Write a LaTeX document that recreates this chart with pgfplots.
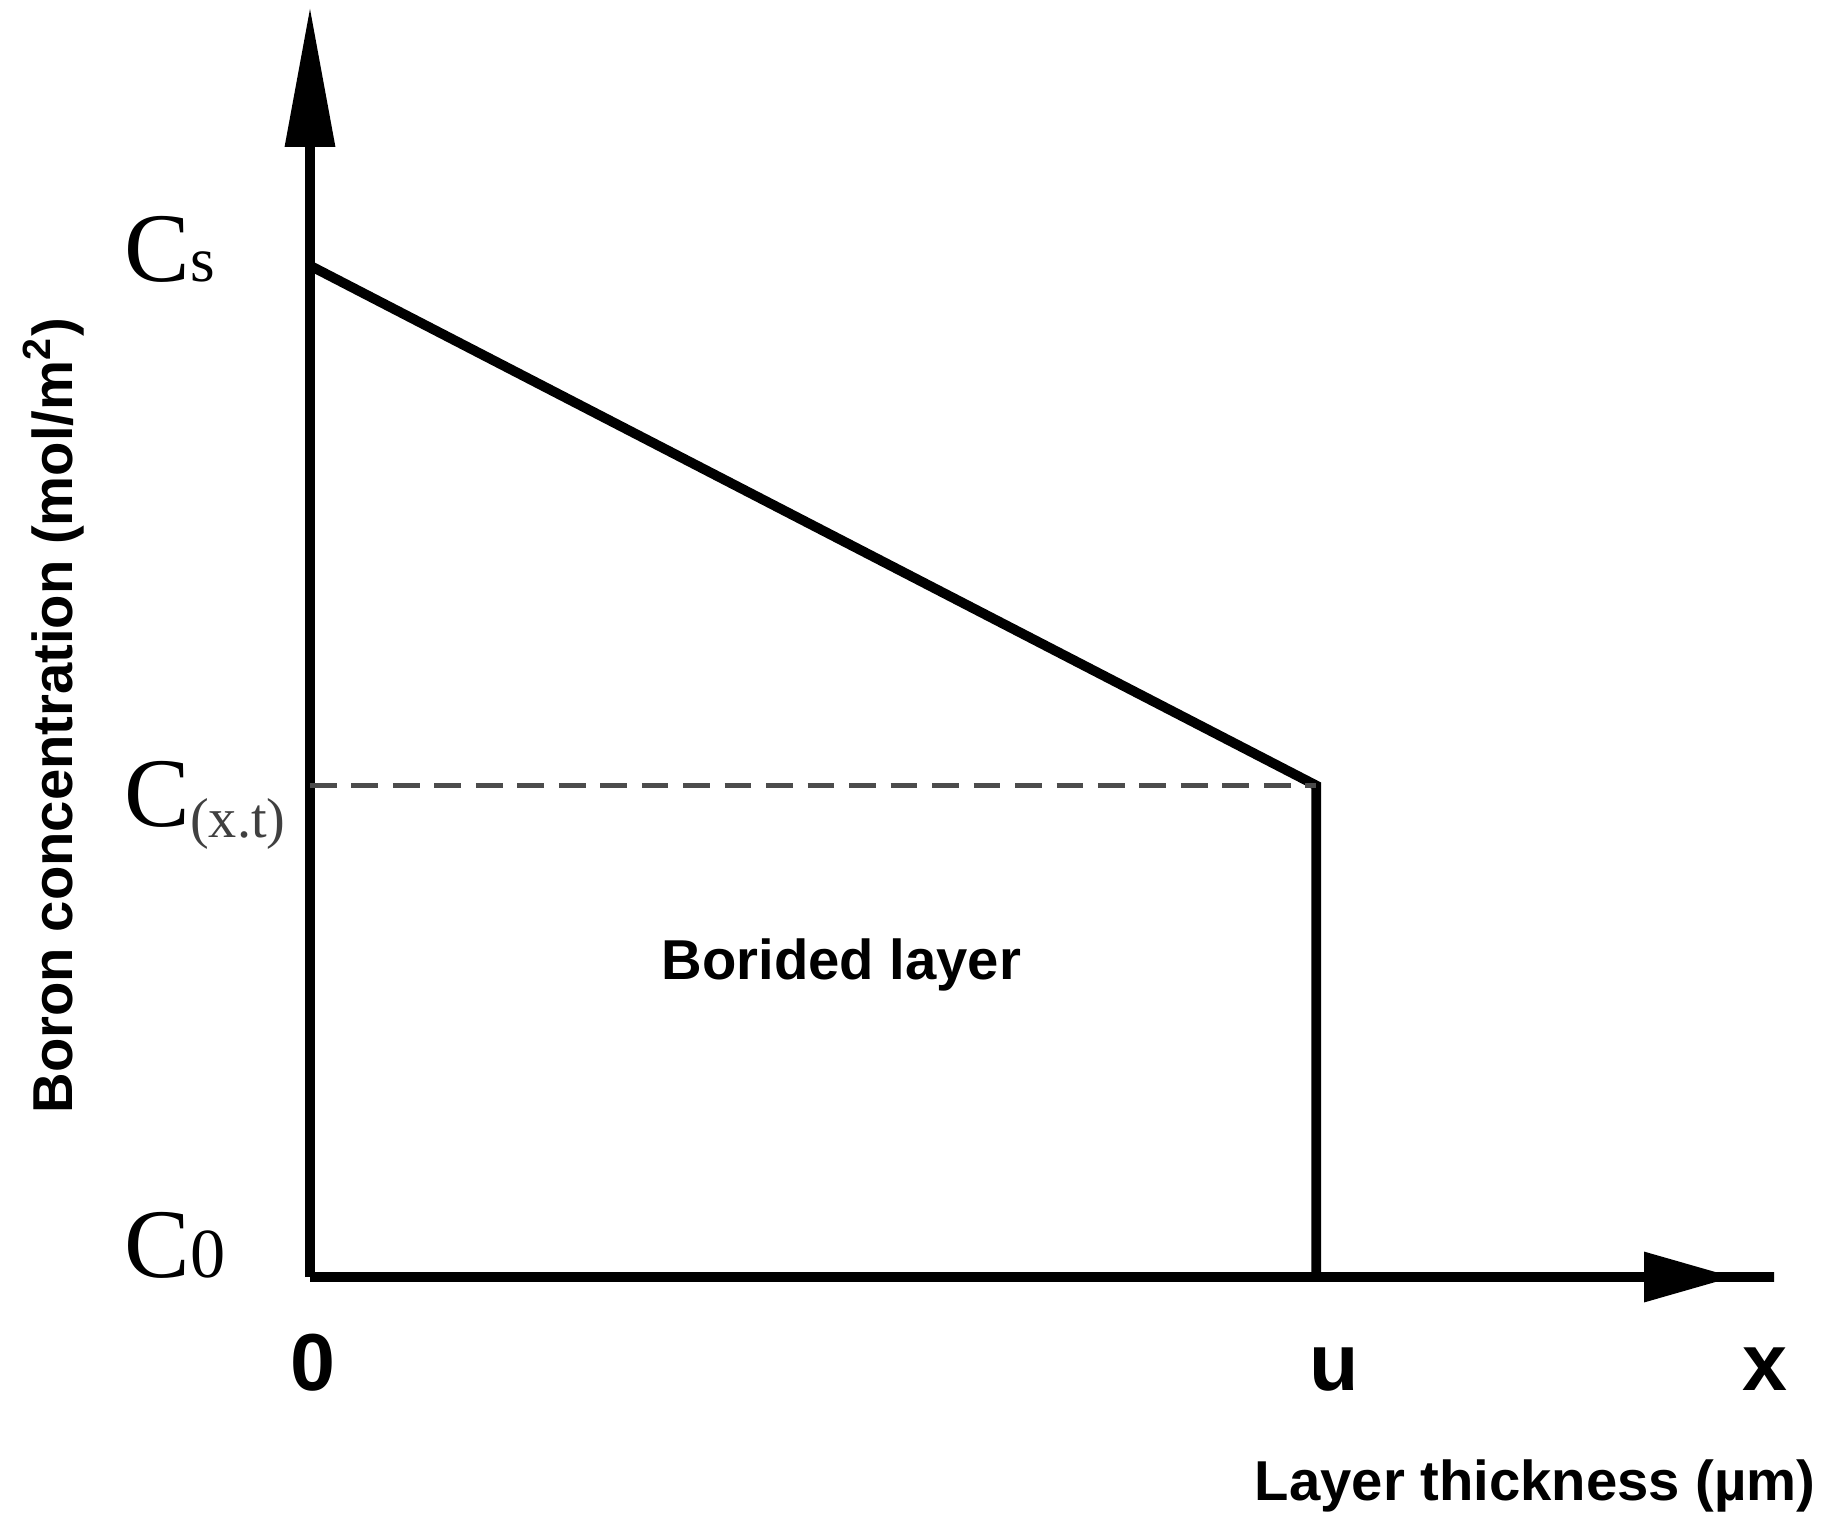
\documentclass[border=0pt]{standalone}
\usepackage{fontspec}
\setmainfont{Liberation Sans}
\newfontfamily\serifC{Liberation Serif}
\usepackage{pgfplots}
\pgfplotsset{compat=1.18}
\usetikzlibrary{arrows.meta}

\begin{document}
\begin{tikzpicture}
% page frame, same proportions as the reference
\path[use as bounding box] (-3.10,-2.58) rectangle (15.30,12.77);

\begin{axis}[
    scale only axis,
    width=14.69cm, height=12.70cm,
    xmin=0, xmax=1.460,
    ymin=0, ymax=1.2557,
    axis lines=left,
    xtick=\empty, ytick=\empty,
    clip=false,
    x axis line style={line width=2.8pt,
        -{Triangle[length=0.9cm,width=0.48cm,sep=0pt]Rectangle[length=0.45cm,width=2.8pt]}},
    y axis line style={line width=2.8pt,
        -{Triangle[length=1.4cm,width=0.48cm]}},
]

% boron profile in the borided layer
\addplot[line width=2.8pt, black, line join=miter] coordinates {
    (0, 1)
    (1, 0.486)
    (1, 0)
};

% C(x,t) level
\addplot[line width=1.3pt, black!70, dash pattern=on 7.6pt off 4.2pt] coordinates {
    (0, 0.486)
    (1, 0.486)
};

% concentration levels
\node[anchor=base west, inner sep=0pt] at (axis cs:-0.185,0.984)
    {\serifC\fontsize{28}{30}\selectfont C\fontsize{18}{20}\selectfont s};
\node[anchor=base west, inner sep=0pt] at (axis cs:-0.185,0.445)
    {\serifC\fontsize{28}{30}\selectfont C\raisebox{-3pt}{\color{black!75}\fontsize{16}{18}\selectfont (x.t)}};
\node[anchor=base west, inner sep=0pt] at (axis cs:-0.185,0)
    {\serifC\fontsize{28}{30}\selectfont C\fontsize{20}{22}\selectfont 0};

% x positions
\node[anchor=base, inner sep=0pt, font=\fontsize{23}{26}\selectfont\bfseries] at (axis cs:0.003,-0.112) {0};
\node[anchor=base, inner sep=0pt, font=\fontsize{23}{26}\selectfont\bfseries] at (axis cs:1.018,-0.112) {u};
\node[anchor=base, inner sep=0pt, font=\fontsize{23}{26}\selectfont\bfseries] at (axis cs:1.446,-0.112) {x};

% labels
\node[anchor=base east, inner sep=0pt, font=\fontsize{16}{19}\selectfont\bfseries] at (axis cs:1.497,-0.2206)
    {Layer thickness (µm)};
\node[rotate=90, anchor=center, inner sep=0pt, font=\fontsize{16}{19}\selectfont\bfseries] at (axis cs:-0.2545,0.555)
    {Boron concentration (mol/m\textsuperscript{2})};
\node[anchor=center, inner sep=0pt, font=\fontsize{16}{19}\selectfont\bfseries] at (axis cs:0.528,0.309)
    {Borided layer};
\end{axis}
\end{tikzpicture}
\end{document}
